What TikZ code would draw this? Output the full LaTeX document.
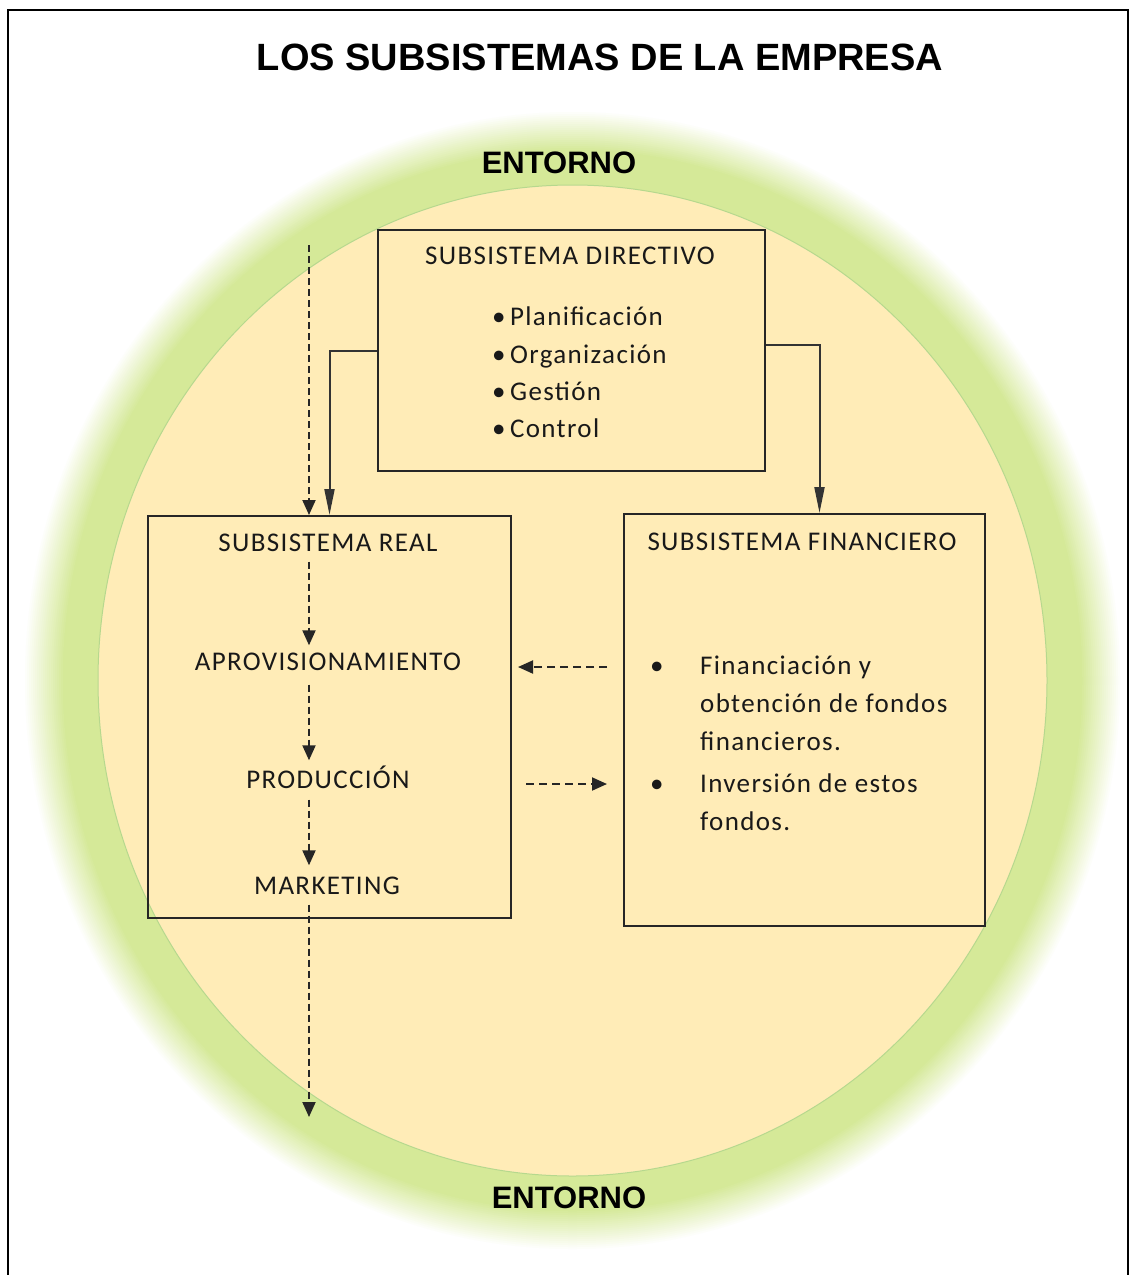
\documentclass[tikz,border=0pt]{standalone}
\usepackage{fontspec}
\usepackage{xcolor}
\usepackage{tikz}
\usetikzlibrary{arrows.meta, positioning, calc}
\setmainfont{Carlito}
\newfontfamily\fuentetitulo{Liberation Sans}
\newfontfamily\fuentecaja[LetterSpace=5]{Carlito}
\definecolor{amarillo}{RGB}{255,236,183}
\definecolor{verde}{RGB}{213,233,152}
\definecolor{bordeverde}{RGB}{182,216,142}

\begin{document}
\begin{tikzpicture}[x=1pt, y=-1pt,
    caja/.style={rectangle, draw=black!85, line width=2pt},
    texto/.style={font=\fuentecaja\fontsize{27}{37}\selectfont, text=black!90, inner sep=0pt, text height=17pt, text depth=0pt},
    lista/.style={font=\fuentecaja\fontsize{27}{37.3}\selectfont, text=black!90, inner sep=0pt, align=left},
    titulo/.style={font=\fuentetitulo\bfseries\fontsize{31}{36}\selectfont, inner sep=0pt},
    flecha/.style={draw=black!80, line width=2pt, -{Triangle[length=26pt,width=10pt]}},
    flechad/.style={draw=black!85, line width=2pt, dash pattern=on 7pt off 4pt, -{Triangle[length=15pt,width=13pt]}}]

    \useasboundingbox (0,0) rectangle (1135,1275);

    % entorno
    \foreach \i in {0,2,...,40} {
        \pgfmathsetmacro\mezcla{2.5*\i}
        \fill[verde!\mezcla!white] (572.5,680.5) ellipse [x radius=549.5-\i, y radius=570.5-\i];
    }
    \fill[verde] (572.5,680.5) ellipse [x radius=509.5, y radius=530.5];
    \filldraw[fill=amarillo, draw=bordeverde, line width=1pt] (572.5,680.5) ellipse [x radius=474.5, y radius=495.5];

    \draw[line width=2pt] (8,1275) -- (8,10) -- (1128,10) -- (1128,1275);

    \node[titulo, font=\fuentetitulo\bfseries\fontsize{38}{44}\selectfont] (Titulo) at (600,57) {LOS SUBSISTEMAS DE LA EMPRESA};
    \node[titulo] (EntornoArriba) at (559,163) {ENTORNO};
    \node[titulo] (EntornoAbajo) at (569,1198) {ENTORNO};

    % cajas
    \node[caja, minimum width=387pt, minimum height=241pt] (Directivo) at (571.5,350.5) {};
    \node[caja, minimum width=363pt, minimum height=402pt] (Real) at (329.5,717) {};
    \node[caja, minimum width=361pt, minimum height=412pt] (Financiero) at (804.5,720) {};

    \node[texto] (DirTit) at (570,256) {SUBSISTEMA DIRECTIVO};
    \node[lista, anchor=west] (DirLista) at (492,372.5) {\textbullet\,Planificación\\ \textbullet\,Organización\\ \textbullet\,Gestión\\ \textbullet\,Control};

    \node[texto] (RealTit) at (328,543) {SUBSISTEMA REAL};
    \node[texto] (Aprov) at (328,662) {APROVISIONAMIENTO};
    \node[texto] (Prod) at (328,780) {PRODUCCIÓN};
    \node[texto] (Mark) at (327,886) {MARKETING};

    \node[texto] (FinTit) at (802,542) {SUBSISTEMA FINANCIERO};
    \node[lista, font=\fuentecaja\fontsize{27}{38}\selectfont, anchor=west] (FinLista) at (650,745) {\begin{tabular}{@{}p{50pt}@{}l@{}}
        \textbullet & Financiación y\\
        & obtención de fondos\\
        & financieros.\\[4pt]
        \textbullet & Inversión de estos\\
        & fondos.
    \end{tabular}};

    % flechas
    \draw[flecha] (Directivo.west) -| (Real.north);
    \draw[flecha] ([yshift=6pt]Directivo.east) -| ([xshift=15pt]Financiero.north);

    \coordinate (entrada) at (309,245);
    \coordinate (salida) at (309,1117);
    \draw[flechad] (entrada) -- (entrada |- Real.north);
    \draw[flechad, shorten <=10pt, shorten >=8pt] (RealTit.south -| entrada) -- (Aprov.north -| entrada);
    \draw[flechad, shorten <=14pt, shorten >=11pt] (Aprov.south -| entrada) -- (Prod.north -| entrada);
    \draw[flechad, shorten <=11pt, shorten >=12pt] (Prod.south -| entrada) -- (Mark.north -| entrada);
    \draw[flechad, shorten <=10pt] (Mark.south -| entrada) -- (salida);

    \draw[flechad, dash pattern=on 8pt off 5pt, shorten <=16pt, shorten >=6pt] ([yshift=-5pt]Financiero.west |- Aprov) -- ([yshift=-5pt]Real.east |- Aprov);
    \draw[flechad, dash pattern=on 8pt off 5pt, shorten <=14pt, shorten >=16pt] ([yshift=-4pt]Real.east |- Prod) -- ([yshift=-4pt]Financiero.west |- Prod);
\end{tikzpicture}
\end{document}
